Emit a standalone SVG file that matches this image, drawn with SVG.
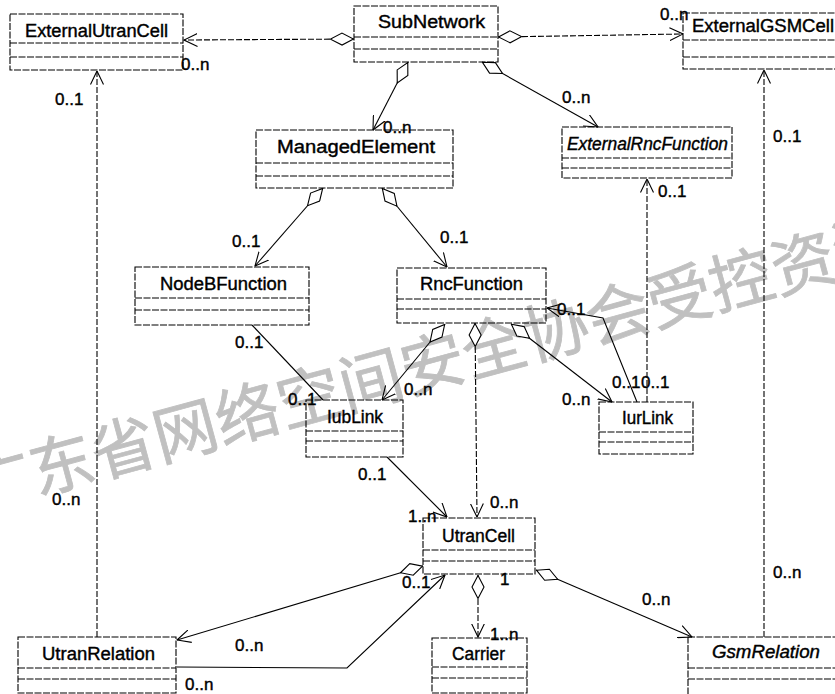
<svg xmlns="http://www.w3.org/2000/svg" width="835" height="694" viewBox="0 0 835 694">
<style>
.bg{fill:#fff}
.box{fill:none;stroke:#000;stroke-width:1.1;stroke-dasharray:7 1.5}
.cn{font-family:"Liberation Sans",Arial,sans-serif;font-size:18px;fill:#000;stroke:#000;stroke-width:0.4}
.it{font-style:italic}
.lb{font-family:"Liberation Sans",Arial,sans-serif;font-size:17px;fill:#000;stroke:#000;stroke-width:0.4}
.ln{fill:none;stroke:#000;stroke-width:1.1}
.dl{stroke-dasharray:6 2}
.wm{font-family:"Noto Sans CJK SC",sans-serif;font-size:64px;fill:#c0c0c0;stroke:#c0c0c0;stroke-width:0.8}
</style>
<defs>
<marker id="arr" viewBox="0 0 14 14" refX="13.5" refY="7" markerWidth="14" markerHeight="14" markerUnits="userSpaceOnUse" orient="auto">
<path d="M0,0.5 L13.5,7 L0,13.5" fill="none" stroke="#000" stroke-width="1.1"/>
</marker>
<marker id="dia" viewBox="0 0 24 14" refX="0" refY="7" markerWidth="24" markerHeight="14" markerUnits="userSpaceOnUse" orient="auto">
<path d="M0.5,7 L12,1 L23.5,7 L12,13 Z" fill="#fff" stroke="#000" stroke-width="1.1"/>
</marker>
</defs>
<rect class="bg" x="0" y="0" width="835" height="694"/>
<text class="wm" x="-32" y="485" dominant-baseline="central" transform="rotate(-15.2 -32 485)">广东省网络空间安全协会受控资源</text>

<g id="ExternalUtranCell">
<rect class="box" x="10" y="14" width="173" height="56"/>
<path class="box" d="M10,43 H183 M10,57 H183"/>
<text class="cn" x="25" y="37" textLength="143" lengthAdjust="spacingAndGlyphs">ExternalUtranCell</text>
</g>
<g id="SubNetwork">
<rect class="box" x="354" y="6" width="144" height="56"/>
<path class="box" d="M354,37 H498 M354,49 H498"/>
<text class="cn" x="378" y="28" textLength="107" lengthAdjust="spacingAndGlyphs">SubNetwork</text>
</g>
<g id="ExternalGSMCell">
<rect class="box" x="683" y="13" width="170" height="56"/>
<path class="box" d="M683,40 H853 M683,57 H853"/>
<text class="cn" x="692" y="32" textLength="142" lengthAdjust="spacingAndGlyphs">ExternalGSMCell</text>
</g>
<g id="ManagedElement">
<rect class="box" x="256" y="130" width="197" height="58"/>
<path class="box" d="M256,163 H453 M256,176 H453"/>
<text class="cn" x="277" y="153" textLength="158" lengthAdjust="spacingAndGlyphs">ManagedElement</text>
</g>
<g id="ExternalRncFunction">
<rect class="box" x="562" y="127" width="170" height="51"/>
<path class="box" d="M562,158 H732 M562,168 H732"/>
<text class="cn it" x="567" y="150" textLength="161" lengthAdjust="spacingAndGlyphs">ExternalRncFunction</text>
</g>
<g id="NodeBFunction">
<rect class="box" x="135" y="267" width="174" height="58"/>
<path class="box" d="M135,298 H309 M135,310 H309"/>
<text class="cn" x="160" y="290" textLength="127" lengthAdjust="spacingAndGlyphs">NodeBFunction</text>
</g>
<g id="RncFunction">
<rect class="box" x="397" y="268" width="149" height="55"/>
<path class="box" d="M397,299 H546 M397,309 H546"/>
<text class="cn" x="420" y="290" textLength="103" lengthAdjust="spacingAndGlyphs">RncFunction</text>
</g>
<g id="IubLink">
<rect class="box" x="306" y="400" width="97" height="57"/>
<path class="box" d="M306,431 H403 M306,441 H403"/>
<text class="cn" x="327" y="423" textLength="56" lengthAdjust="spacingAndGlyphs">IubLink</text>
</g>
<g id="IurLink">
<rect class="box" x="599" y="402" width="94" height="52"/>
<path class="box" d="M599,432 H693 M599,442 H693"/>
<text class="cn" x="622" y="424" textLength="51" lengthAdjust="spacingAndGlyphs">IurLink</text>
</g>
<g id="UtranCell">
<rect class="box" x="423" y="518" width="112" height="56"/>
<path class="box" d="M423,550 H535 M423,561 H535"/>
<text class="cn" x="442" y="542" textLength="73" lengthAdjust="spacingAndGlyphs">UtranCell</text>
</g>
<g id="Carrier">
<rect class="box" x="432" y="638" width="95" height="55"/>
<path class="box" d="M432,667 H527 M432,678 H527"/>
<text class="cn" x="452" y="660" textLength="53" lengthAdjust="spacingAndGlyphs">Carrier</text>
</g>
<g id="UtranRelation">
<rect class="box" x="18" y="637" width="158" height="56"/>
<path class="box" d="M18,668 H176 M18,679 H176"/>
<text class="cn" x="42" y="660" textLength="113" lengthAdjust="spacingAndGlyphs">UtranRelation</text>
</g>
<g id="GsmRelation">
<rect class="box" x="688" y="637" width="160" height="60"/>
<path class="box" d="M688,668 H848 M688,679 H848"/>
<text class="cn it" x="712" y="658" textLength="108" lengthAdjust="spacingAndGlyphs">GsmRelation</text>
</g>

<g id="connectors">
<path class="ln dl" d="M354,39 L184,40" marker-start="url(#dia)" marker-end="url(#arr)"/>
<path class="ln dl" d="M498,37 L683,34" marker-start="url(#dia)" marker-end="url(#arr)"/>
<path class="ln" d="M408,62 L373,130" marker-start="url(#dia)" marker-end="url(#arr)"/>
<path class="ln" d="M482,62 L598,127" marker-start="url(#dia)" marker-end="url(#arr)"/>
<path class="ln" d="M323,188 L255,266" marker-start="url(#dia)" marker-end="url(#arr)"/>
<path class="ln" d="M382,188 L447,267" marker-start="url(#dia)" marker-end="url(#arr)"/>
<path class="ln" d="M252,325 L323,400"/>
<path class="ln" d="M445,324 L382,400" marker-start="url(#dia)" marker-end="url(#arr)"/>
<path class="ln dl" d="M475,323 L477,517" marker-start="url(#dia)" marker-end="url(#arr)"/>
<path class="ln" d="M511,324 L612,402" marker-start="url(#dia)" marker-end="url(#arr)"/>
<path class="ln" d="M637,402 L603,318 L547,308" marker-end="url(#arr)"/>
<path class="ln dl" d="M647,402 L647,179" marker-end="url(#arr)"/>
<path class="ln" d="M387,457 L447,517" marker-end="url(#arr)"/>
<path class="ln dl" d="M97,637 L97,71" marker-end="url(#arr)"/>
<path class="ln" d="M423,566 L177,640" marker-start="url(#dia)" marker-end="url(#arr)"/>
<path class="ln" d="M177,667 L347,668 L445,575" marker-end="url(#arr)"/>
<path class="ln dl" d="M478,575 L478,637" marker-start="url(#dia)" marker-end="url(#arr)"/>
<path class="ln" d="M536,570 L692,637" marker-start="url(#dia)" marker-end="url(#arr)"/>
<path class="ln dl" d="M764,637 L764,70" marker-end="url(#arr)"/>
</g>

<g id="labels">
<text class="lb" x="181" y="70">0..n</text>
<text class="lb" x="55" y="105">0..1</text>
<text class="lb" x="383" y="133">0..n</text>
<text class="lb" x="562" y="103">0..n</text>
<text class="lb" x="660" y="20">0..n</text>
<text class="lb" x="773" y="142">0..1</text>
<text class="lb" x="658" y="197">0..1</text>
<text class="lb" x="232" y="247">0..1</text>
<text class="lb" x="440" y="243">0..1</text>
<text class="lb" x="235" y="348">0..1</text>
<text class="lb" x="288" y="405">0..1</text>
<text class="lb" x="404" y="395">0..n</text>
<text class="lb" x="557" y="315">0..1</text>
<text class="lb" x="612" y="388">0..1</text>
<text class="lb" x="641" y="388">0..1</text>
<text class="lb" x="562" y="405">0..n</text>
<text class="lb" x="358" y="480">0..1</text>
<text class="lb" x="490" y="508">0..n</text>
<text class="lb" x="408" y="522">1..n</text>
<text class="lb" x="52" y="505">0..n</text>
<text class="lb" x="402" y="588">0..1</text>
<text class="lb" x="500" y="585">1</text>
<text class="lb" x="235" y="651">0..n</text>
<text class="lb" x="185" y="690">0..n</text>
<text class="lb" x="490" y="640">1..n</text>
<text class="lb" x="642" y="605">0..n</text>
<text class="lb" x="773" y="578">0..n</text>
</g>
</svg>
